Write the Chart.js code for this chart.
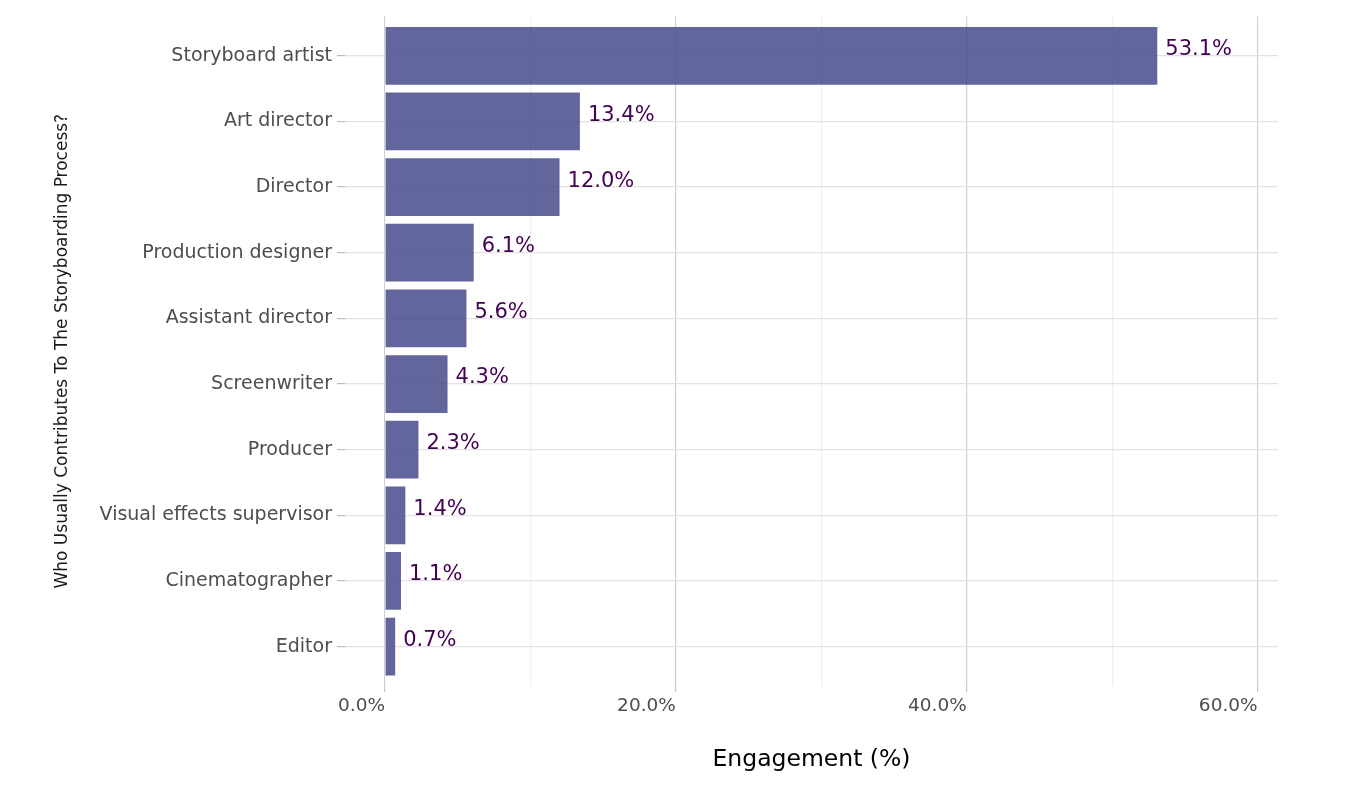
<!DOCTYPE html>
<html>
<head>
<meta charset="utf-8">
<script src="https://cdn.jsdelivr.net/npm/chart.js@4"></script>
<style>
  html, body { margin: 0; padding: 0; background: #fff; }
  .wrap { width: 1354px; height: 794px; }
</style>
</head>
<body>
<div class="wrap"><canvas id="myChart" width="1354" height="794"></canvas></div>
<script>
  const roles = [
    'Storyboard artist',
    'Art director',
    'Director',
    'Production designer',
    'Assistant director',
    'Screenwriter',
    'Producer',
    'Visual effects supervisor',
    'Cinematographer',
    'Editor'
  ];
  const engagement = [53.1, 13.4, 12.0, 6.1, 5.6, 4.3, 2.3, 1.4, 1.1, 0.7];
  const xTicks = [0, 10, 20, 30, 40, 50, 60];
  const xTickLabels = ['0.0%', '', '20.0%', '', '40.0%', '', '60.0%'];

  const font = 'DejaVu Sans';

  /* value labels at bar ends */
  const barLabels = {
    id: 'barLabels',
    afterDatasetsDraw(chart) {
      const ctx = chart.ctx;
      const meta = chart.getDatasetMeta(0);
      ctx.save();
      ctx.font = '21px "' + font + '"';
      ctx.fillStyle = '#440154';
      ctx.textAlign = 'left';
      ctx.textBaseline = 'middle';
      meta.data.forEach(function(bar, i){
        ctx.fillText(engagement[i].toFixed(1) + '%', bar.x + 8, bar.y - 6);
      });
      ctx.restore();
    }
  };

  const data = {
    datasets: [{
      label: 'Engagement (%)',
      data: engagement.map(function(v, i){ return { x: v, y: i }; }),
      backgroundColor: 'rgba(65, 68, 135, 0.82)',
      borderColor: 'rgba(65, 68, 135, 0.82)',
      borderWidth: 0,
      barPercentage: 0.88,
      categoryPercentage: 1
    }]
  };

  const config = {
    type: 'bar',
    data: data,
    plugins: [barLabels],
    options: {
      indexAxis: 'y',
      responsive: false,
      animation: false,
      layout: { padding: { top: 16, right: 76, bottom: 0, left: 0 } },
      plugins: {
        legend: { display: false },
        tooltip: { enabled: false }
      },
      scales: {
        x: {
          type: 'linear',
          min: -2.75,
          max: 61.4,
          afterBuildTicks: function(s){ s.ticks = xTicks.map(function(v){ return { value: v }; }); },
          afterFit: function(s){ s.height = 108; },
          border: { display: false },
          grid: {
            color: function(c){ return c.tick && c.tick.value % 20 === 0 ? '#d0d0d0' : '#efefef'; },
            tickColor: function(c){ return c.tick && c.tick.value % 20 === 0 ? '#c4c4c4' : 'rgba(0,0,0,0)'; },
            tickLength: 6,
            lineWidth: 1.2
          },
          ticks: {
            align: 'end',
            padding: 3,
            maxRotation: 0,
            autoSkip: false,
            color: '#4d4d4d',
            font: { family: font, size: 18.5 },
            callback: function(v){ return xTickLabels[xTicks.indexOf(v)]; }
          },
          title: {
            display: true,
            text: 'Engagement (%)',
            color: '#000',
            font: { family: font, size: 23.5 },
            padding: { top: 0, bottom: 20 }
          }
        },
        y: {
          type: 'linear',
          reverse: true,
          min: -0.6,
          max: 9.6,
          offset: false,
          afterBuildTicks: function(s){ s.ticks = roles.map(function(r, i){ return { value: i }; }); },
          afterFit: function(s){ s.width = 345; },
          border: { display: false },
          grid: {
            color: '#e2e2e2',
            tickColor: '#bdbdbd',
            tickLength: 8,
            lineWidth: 1.2,
            offset: false
          },
          ticks: {
            padding: 5,
            autoSkip: false,
            color: '#4d4d4d',
            font: { family: font, size: 19 },
            callback: function(v){ return roles[v]; }
          },
          title: {
            display: true,
            text: 'Who Usually Contributes To The Storyboarding Process?',
            color: '#1a1a1a',
            font: { family: font, size: 17 },
            padding: { top: 52, bottom: 0 }
          }
        }
      }
    }
  };

  const myChart = new Chart(document.getElementById('myChart'), config);
</script>
</body>
</html>
